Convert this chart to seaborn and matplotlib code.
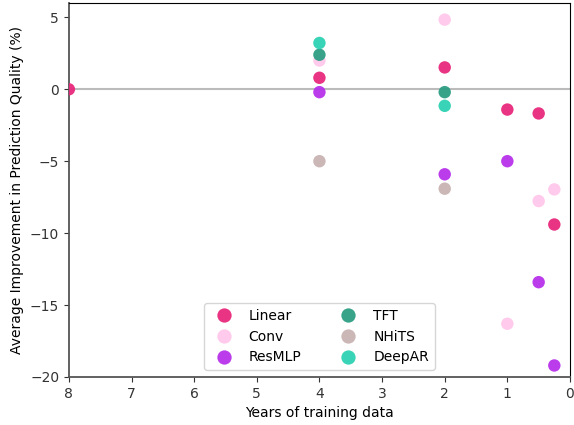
import pandas as pd
import seaborn as sns
import matplotlib.pyplot as plt

# data
models = ["Linear", "Conv", "ResMLP", "TFT", "NHiTS", "DeepAR"]

years_linear = [8, 4, 2, 1, 0.5, 0.25]
linear = [0.0, 0.8, 1.52, -1.41, -1.68, -9.4]

years_conv = [4, 2, 1, 0.5, 0.25]
conv = [2.0, 4.84, -16.3, -7.77, -6.96]

years_resmlp = [4, 2, 1, 0.5, 0.25]
resmlp = [-0.2, -5.91, -5.0, -13.41, -19.2]

years_tft = [4, 2]
tft = [2.4, -0.2]

years_nhits = [4, 2]
nhits = [-5.0, -6.91]

years_deepar = [4, 2]
deepar = [3.22, -1.15]

colors = ["#e8287c", "#ffc8ea", "#b731ea", "#2e9e84", "#cab3b3", "#2ed2b3"]

frames = []
for name, xs, ys in zip(
    models,
    [years_linear, years_conv, years_resmlp, years_tft, years_nhits, years_deepar],
    [linear, conv, resmlp, tft, nhits, deepar],
):
    frames.append(pd.DataFrame({"years": xs, "improvement": ys, "model": name}))
df = pd.concat(frames, ignore_index=True)

fig, ax = plt.subplots(figsize=(5.74, 4.25), dpi=100)

ax.axhline(0, color="#bbbbbb", linewidth=1.5, zorder=1)

sns.scatterplot(
    data=df,
    x="years",
    y="improvement",
    hue="model",
    hue_order=models,
    palette=dict(zip(models, colors)),
    s=80,
    linewidth=0,
    alpha=0.95,
    zorder=3,
    ax=ax,
)

ax.set_xlim(8, 0)
ax.set_ylim(-20, 6)
ax.set_xticks(range(8, -1, -1))
ax.set_yticks([5, 0, -5, -10, -15, -20])
ax.set_xlabel("Years of training data")
ax.set_ylabel("Average Improvement in Prediction Quality (%)")

for side in ["left", "bottom"]:
    ax.spines[side].set_color("#555555")
    ax.spines[side].set_linewidth(1.3)
ax.tick_params(colors="#333333")

ax.legend(loc="lower center", ncol=2, fontsize=10, columnspacing=2.4,
          handletextpad=0.8, markerscale=1.15)

plt.subplots_adjust(left=0.12, right=0.993, top=0.993, bottom=0.113)
plt.savefig("out.png", dpi=100)
plt.close()
